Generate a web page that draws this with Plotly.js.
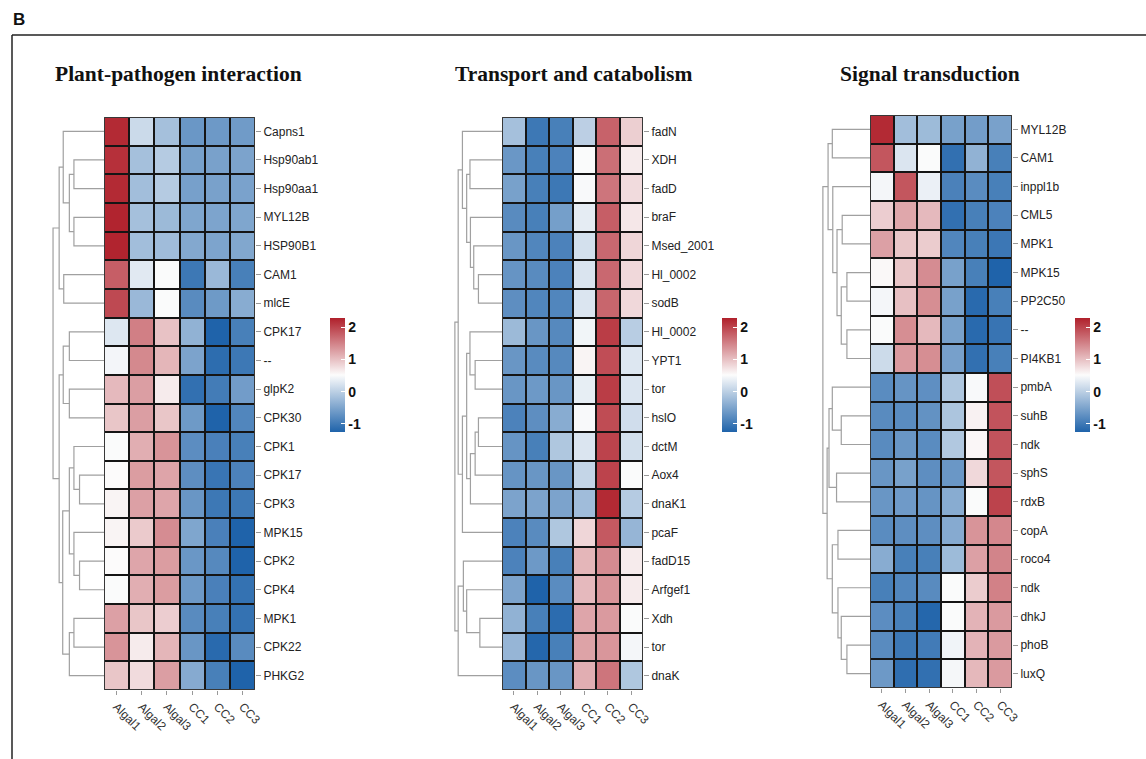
<!DOCTYPE html>
<html><head><meta charset="utf-8">
<script src="https://cdn.plot.ly/plotly-3.0.1.min.js"></script>
<style>html,body{margin:0;padding:0;background:#fff}#chart{width:1146px;height:759px}</style>
</head><body><div id="chart"></div>
<script>
// ---------- DATA ----------
const columns = ['Algal1', 'Algal2', 'Algal3', 'CC1', 'CC2', 'CC3'];

const title1 = 'Plant-pathogen interaction';
const rows1 = ['Capns1','Hsp90ab1','Hsp90aa1','MYL12B','HSP90B1','CAM1','mlcE','CPK17','--','glpK2',
               'CPK30','CPK1','CPK17','CPK3','MPK15','CPK2','CPK4','MPK1','CPK22','PHKG2'];
const values1 = [
  [2.20, 0.12, -0.18, -0.65, -0.63, -0.60],
  [2.15, -0.18, -0.05, -0.54, -0.53, -0.51],
  [2.20, -0.20, -0.05, -0.55, -0.53, -0.52],
  [2.25, -0.18, -0.25, -0.48, -0.50, -0.48],
  [2.25, -0.20, -0.22, -0.45, -0.50, -0.47],
  [1.78, 0.30, 0.50, -1.01, -0.27, -0.92],
  [1.95, -0.27, 0.50, -0.79, -0.62, -0.41],
  [0.27, 1.52, 0.98, -0.34, -1.25, -0.92],
  [0.44, 1.44, 1.08, -0.51, -1.14, -1.01],
  [1.05, 1.27, 0.65, -1.10, -0.96, -0.59],
  [0.95, 1.27, 0.95, -0.62, -1.25, -0.85],
  [0.50, 1.14, 1.35, -0.76, -0.91, -0.92],
  [0.52, 1.28, 1.22, -0.75, -1.04, -0.89],
  [0.58, 1.25, 1.21, -0.66, -1.01, -1.01],
  [0.58, 0.92, 1.41, -0.48, -0.91, -1.25],
  [0.52, 1.21, 1.28, -0.65, -0.81, -1.25],
  [0.50, 1.14, 1.28, -0.63, -0.91, -1.08],
  [1.25, 0.95, 0.89, -0.79, -0.92, -1.08],
  [1.35, 0.65, 1.08, -0.66, -1.17, -0.79],
  [0.95, 0.78, 1.27, -0.43, -0.92, -1.25]
];
// dendrogram: node = [left, right, height]; leaf = row index
const tree1 = [
  [[0, [[1, 2, 0.59], [3, 4, 0.59], 0.68], 0.80], [5, 6, 0.79], 0.88],
  [[[7, 8, 0.68], [9, 10, 0.68], 0.80],
   [[[11, [12, 13, 0.48], 0.59], [14, [15, 16, 0.48], 0.59], 0.68], [[17, 18, 0.59], 19, 0.68], 0.81], 0.88],
  1.0];

const title2 = 'Transport and catabolism';
const rows2 = ['fadN','XDH','fadD','braF','Msed_2001','Hl_0002','sodB','Hl_0002','YPT1','tor',
               'hslO','dctM','Aox4','dnaK1','pcaF','fadD15','Arfgef1','Xdh','tor','dnaK'];
const values2 = [
  [-0.18, -1.01, -0.92, 0.00, 1.75, 0.88],
  [-0.65, -0.92, -0.89, 0.50, 1.65, 0.65],
  [-0.54, -0.92, -1.01, 0.48, 1.60, 0.78],
  [-0.79, -0.92, -0.56, 0.33, 1.78, 0.68],
  [-0.66, -0.85, -0.89, 0.19, 1.70, 0.82],
  [-0.68, -0.79, -0.89, 0.24, 1.70, 0.80],
  [-0.75, -0.85, -0.85, 0.25, 1.72, 0.80],
  [-0.25, -0.66, -0.81, 0.43, 2.05, -0.03],
  [-0.66, -0.79, -0.81, 0.58, 1.92, 0.27],
  [-0.66, -0.63, -0.66, 0.35, 2.05, 0.25],
  [-0.89, -0.75, -0.41, 0.48, 1.93, 0.16],
  [-0.68, -0.92, -0.10, 0.25, 2.00, 0.18],
  [-0.68, -0.66, -0.66, 0.07, 2.00, 0.50],
  [-0.51, -0.51, -0.51, -0.22, 2.20, -0.05],
  [-0.89, -0.79, -0.10, 0.82, 1.82, -0.30],
  [-0.89, -0.63, -0.92, 1.08, 1.42, 0.65],
  [-0.51, -1.28, -0.78, 1.05, 1.35, 0.65],
  [-0.34, -0.92, -1.15, 1.21, 1.30, 0.50],
  [-0.30, -1.20, -0.92, 1.23, 1.33, 0.45],
  [-0.76, -0.66, -0.66, 1.14, 1.60, -0.10]
];
const tree2 = [
  [[0, [[1, 2, 0.68], [3, [4, [5, 6, 0.50], 0.60], 0.67], 0.75], 0.84],
   [[[7, [8, 9, 0.57], 0.68], [[[10, 11, 0.50], 12, 0.57], 13, 0.67], 0.75], 14, 0.84], 0.93],
  [[15, [16, [17, 18, 0.47], 0.75], 0.82], 19, 0.93],
  1.0];

const title3 = 'Signal transduction';
const rows3 = ['MYL12B','CAM1','inppl1b','CML5','MPK1','MPK15','PP2C50','--','PI4KB1','pmbA',
               'suhB','ndk','sphS','rdxB','copA','roco4','ndk','dhkJ','phoB','luxQ'];
const values3 = [
  [2.20, -0.20, -0.24, -0.54, -0.58, -0.53],
  [1.85, 0.25, 0.50, -1.10, -0.34, -0.92],
  [0.45, 1.85, 0.38, -0.90, -0.78, -0.92],
  [0.89, 1.20, 1.05, -1.10, -0.92, -0.89],
  [1.25, 0.95, 0.90, -0.85, -0.92, -1.02],
  [0.55, 0.95, 1.41, -0.54, -0.92, -1.30],
  [0.45, 1.00, 1.40, -0.54, -1.17, -0.92],
  [0.50, 1.40, 1.05, -0.54, -1.17, -1.05],
  [0.13, 1.30, 1.40, -0.55, -1.10, -0.92],
  [-0.78, -0.68, -0.74, -0.10, 0.48, 1.90],
  [-0.79, -0.78, -0.71, -0.12, 0.60, 1.87],
  [-0.79, -0.66, -0.78, -0.08, 0.56, 1.87],
  [-0.66, -0.54, -0.75, -0.65, 0.80, 1.85],
  [-0.66, -0.61, -0.68, -0.41, 0.50, 2.00],
  [-0.78, -0.75, -0.75, -0.43, 1.35, 1.45],
  [-0.41, -0.92, -0.92, -0.24, 1.25, 1.48],
  [-0.92, -0.85, -0.79, 0.50, 0.90, 1.50],
  [-0.76, -0.92, -1.20, 0.50, 1.10, 1.30],
  [-0.79, -1.01, -0.97, 0.42, 1.10, 1.30],
  [-0.63, -1.12, -1.10, 0.46, 1.06, 1.30]
];
const tree3 = [
  [[0, 1, 0.80], [2, [[3, 4, 0.59], [[5, 6, 0.49], [7, 8, 0.49], 0.61], 0.70], 0.79], 0.89],
  [[[9, [10, 11, 0.61], 0.80], [12, 13, 0.71], 0.87],
   [[14, 15, 0.68], [16, [17, [18, 19, 0.49], 0.61], 0.68], 0.80], 0.91],
  1.0];

const colorTicks = [-1, 0, 1, 2];

// ---------- LAYOUT / RENDER ----------
const W = 1146, H = 759;
const px = v => v / W, py = v => 1 - v / H;
const zmin = -1.25, zmax = 2.28;
const colorscale = [[0, '#1F63AA'], [0.5, '#FCFCFC'], [1, '#B0202B']];

const panels = [
  {title: title1, rows: rows1, values: values1, tree: tree1,
   dx: [51, 104], hx: [104, 255], yy: [117, 690], cbx: 330, tx: 53},
  {title: title2, rows: rows2, values: values2, tree: tree2,
   dx: [453, 502], hx: [502, 643], yy: [117, 690], cbx: 722, tx: 453},
  {title: title3, rows: rows3, values: values3, tree: tree3,
   dx: [821, 870], hx: [870, 1012], yy: [115, 688], cbx: 1075, tx: 838}
];

function walk(node, seg) {
  if (typeof node === 'number') return {y: node, h: 0};
  const a = walk(node[0], seg), b = walk(node[1], seg), h = node[2];
  seg.x.push(a.h, h, h, b.h, null);
  seg.y.push(a.y, a.y, b.y, b.y, null);
  return {y: (a.y + b.y) / 2, h: h};
}

const traces = [], layout = {
  width: W, height: H, margin: {l: 0, r: 0, t: 0, b: 0},
  paper_bgcolor: '#fff', plot_bgcolor: '#fff', showlegend: false,
  font: {family: 'Liberation Sans, Arial, sans-serif', color: '#222', size: 12},
  shapes: [], annotations: []
};

panels.forEach((p, i) => {
  const hi = 2 * i + 1, di = 2 * i + 2;
  const hxName = 'x' + hi, hyName = 'y' + hi, dxName = 'x' + di, dyName = 'y' + di;
  const hxKey = hi === 1 ? 'xaxis' : 'xaxis' + hi, hyKey = hi === 1 ? 'yaxis' : 'yaxis' + hi;
  const n = p.rows.length, m = columns.length;
  const rowIdx = p.rows.map((_, k) => k), colIdx = columns.map((_, k) => k);
  const ydom = [py(p.yy[1]), py(p.yy[0])];

  traces.push({
    type: 'heatmap', x: colIdx, y: rowIdx, z: p.values,
    xaxis: hxName, yaxis: hyName, zmin: zmin, zmax: zmax, colorscale: colorscale,
    xgap: 2, ygap: 2, hoverinfo: 'skip',
    colorbar: {
      x: px(p.cbx), xanchor: 'left', y: py(375), yanchor: 'middle',
      len: 114, lenmode: 'pixels', thickness: 15, thicknessmode: 'pixels',
      outlinewidth: 0, xpad: 0, ypad: 0,
      tickvals: colorTicks, ticktext: colorTicks.map(String),
      ticks: 'inside', ticklen: 4, tickcolor: '#ffffff', tickwidth: 1,
      tickfont: {family: 'Liberation Sans, Arial, sans-serif', size: 14, color: '#111', weight: 'bold'}
    }
  });

  const seg = {x: [], y: []};
  walk(p.tree, seg);
  traces.push({
    type: 'scatter', mode: 'lines', x: seg.x, y: seg.y, xaxis: dxName, yaxis: dyName,
    line: {color: '#a0a0a0', width: 1.2}, hoverinfo: 'skip'
  });

  layout[hxKey] = {
    domain: [px(p.hx[0]), px(p.hx[1])], anchor: hyName, range: [-0.5, m - 0.5],
    tickmode: 'array', tickvals: colIdx, ticktext: columns, tickangle: 45,
    ticks: 'outside', ticklen: 4, tickcolor: '#999', showgrid: false, zeroline: false,
    showline: false, fixedrange: true,
    tickfont: {family: 'Liberation Sans, Arial, sans-serif', size: 12, color: '#333'}
  };
  layout[hyKey] = {
    domain: ydom, anchor: hxName, side: 'right', range: [n - 0.5, -0.5],
    tickmode: 'array', tickvals: rowIdx, ticktext: p.rows,
    ticks: 'outside', ticklen: 5, tickcolor: '#999', showgrid: false, zeroline: false,
    fixedrange: true,
    tickfont: {family: 'Liberation Sans, Arial, sans-serif', size: 12, color: '#222'}
  };
  layout['xaxis' + di] = {
    domain: [px(p.dx[0]), px(p.dx[1])], anchor: dyName, range: [1.04, 0],
    visible: false, fixedrange: true
  };
  layout['yaxis' + di] = {
    domain: ydom, anchor: dxName, range: [n - 0.5, -0.5], visible: false, fixedrange: true
  };

  layout.shapes.push({
    type: 'rect', xref: hxName, yref: hyName, x0: -0.5, x1: m - 0.5, y0: -0.5, y1: n - 0.5,
    fillcolor: '#151515', line: {color: '#444', width: 1.5}, layer: 'below'
  });

  layout.annotations.push({
    xref: 'paper', yref: 'paper', x: px(p.tx), y: py(74), xanchor: 'left', yanchor: 'middle',
    text: p.title, showarrow: false,
    font: {family: 'Liberation Serif, Times New Roman, serif', size: 21.5, color: '#111', weight: 'bold'}
  });
});

layout.annotations.push({
  xref: 'paper', yref: 'paper', x: px(11), y: py(19), xanchor: 'left', yanchor: 'middle',
  text: 'B', showarrow: false,
  font: {family: 'Liberation Sans, Arial, sans-serif', size: 17, color: '#111', weight: 'bold'}
});
layout.shapes.push(
  {type: 'line', xref: 'paper', yref: 'paper', x0: px(12), x1: 1, y0: py(35), y1: py(35),
   line: {color: '#222', width: 1.5}},
  {type: 'line', xref: 'paper', yref: 'paper', x0: px(12), x1: px(12), y0: py(35), y1: 0,
   line: {color: '#222', width: 1.5}}
);

Plotly.newPlot('chart', traces, layout, {staticPlot: true, displayModeBar: false});
</script>
</body></html>
